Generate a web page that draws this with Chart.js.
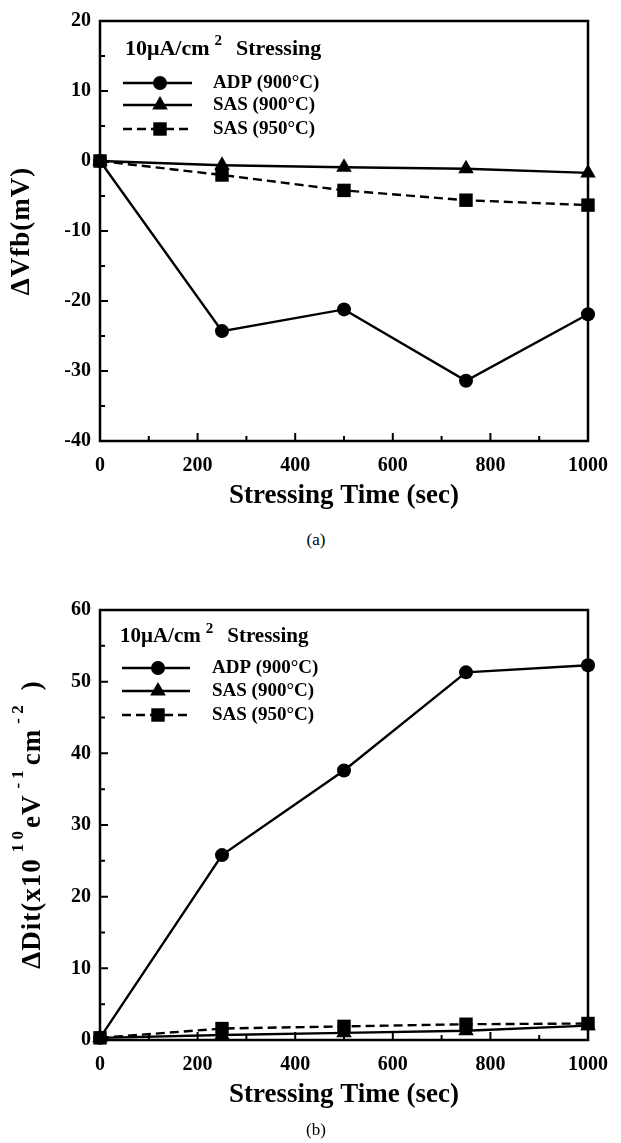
<!DOCTYPE html>
<html>
<head>
<meta charset="utf-8">
<script src="https://cdn.jsdelivr.net/npm/chart.js@4.4.0/dist/chart.umd.min.js"></script>
<style>
    body { margin: 0; background: #fff; width: 621px; height: 1143px; position: relative; overflow: hidden; }
    .panel { position: absolute; left: 0; width: 621px; }
    .caption { position: absolute; left: 276px; width: 80px; text-align: center; font: 17px "Liberation Serif", serif; color: #000; }
</style>
</head>
<body>
<div class="panel" style="top:0"><canvas id="chart-a" width="621" height="525"></canvas></div>
<div class="caption" style="top:530px">(a)</div>
<div class="panel" style="top:580px"><canvas id="chart-b" width="621" height="544"></canvas></div>
<div class="caption" style="top:1120px">(b)</div>

<script>
// ===== DATOS =====
const stressTimes = [0, 250, 500, 750, 1000];
const timeTicks = [0, 200, 400, 600, 800, 1000];
const seriesNames = ['ADP (900°C)', 'SAS (900°C)', 'SAS (950°C)'];
const legendTitle = ['10μA/cm', '2', 'Stressing'];

// (a) flat-band voltage shift, mV
const vfbADP900 = [0, -24.3, -21.2, -31.4, -21.9];
const vfbSAS900 = [0, -0.6, -0.9, -1.1, -1.7];
const vfbSAS950 = [0, -2.0, -4.2, -5.6, -6.3];
const vfbTicks = [-40, -30, -20, -10, 0, 10, 20];

// (b) interface trap density shift, x10^10 eV^-1 cm^-2
const ditADP900 = [0.3, 25.8, 37.6, 51.3, 52.3];
const ditSAS900 = [0.3, 0.7, 1.0, 1.3, 2.0];
const ditSAS950 = [0.3, 1.6, 1.9, 2.2, 2.3];
const ditTicks = [0, 10, 20, 30, 40, 50, 60];

const serif = '"Liberation Serif", "Times New Roman", serif';
Chart.defaults.font.family = serif;
Chart.defaults.color = '#000';

const seriesStyles = [
    { pointStyle: 'circle', pointRadius: 7, borderDash: [] },
    { pointStyle: 'triangle', pointRadius: 9, borderDash: [] },
    { pointStyle: 'rect', pointRadius: 9.5, borderDash: [9, 5] }
];

// ===== PLUGINS =====
// marco + ticks hacia adentro
const frameTicks = {
    id: 'frameTicks',
    beforeDatasetsDraw(chart) {
        const { ctx, chartArea: a, scales: { x, y } } = chart;
        ctx.save();
        ctx.strokeStyle = '#000';
        ctx.lineWidth = 2.5;
        ctx.strokeRect(a.left, a.top, a.right - a.left, a.bottom - a.top);
        ctx.lineWidth = 2;
        ctx.beginPath();
        const xv = x.ticks.map(t => t.value);
        xv.forEach((v, i) => {
            const px = x.getPixelForValue(v);
            ctx.moveTo(px, a.bottom); ctx.lineTo(px, a.bottom - 8);
            if (i < xv.length - 1) {
                const m = x.getPixelForValue((v + xv[i + 1]) / 2);
                ctx.moveTo(m, a.bottom); ctx.lineTo(m, a.bottom - 5);
            }
        });
        const yv = y.ticks.map(t => t.value);
        yv.forEach((v, i) => {
            const py = y.getPixelForValue(v);
            ctx.moveTo(a.left, py); ctx.lineTo(a.left + 8, py);
            if (i < yv.length - 1) {
                const m = y.getPixelForValue((v + yv[i + 1]) / 2);
                ctx.moveTo(a.left, m); ctx.lineTo(a.left + 5, m);
            }
        });
        ctx.stroke();
        ctx.restore();
    }
};

function drawMarker(ctx, ds, x, y) {
    if (Chart.helpers && Chart.helpers.drawPoint) {
        Chart.helpers.drawPoint(ctx, { pointStyle: ds.pointStyle, radius: ds.pointRadius, rotation: 0, borderWidth: 0 }, x, y);
        return;
    }
    ctx.beginPath();
    ctx.arc(x, y, ds.pointRadius, 0, Math.PI * 2);
    ctx.fill();
}

// leyenda dentro del gráfico
const paperLegend = {
    id: 'paperLegend',
    afterDatasetsDraw(chart, args, opts) {
        const { ctx, chartArea: a } = chart;
        ctx.save();
        ctx.fillStyle = '#000';
        ctx.strokeStyle = '#000';
        ctx.textBaseline = 'middle';
        ctx.textAlign = 'left';
        let x = a.left + opts.titleX;
        const ty = a.top + opts.titleY;
        ctx.font = `bold ${opts.titleSize}px ${serif}`;
        ctx.fillText(legendTitle[0], x, ty);
        x += ctx.measureText(legendTitle[0]).width + 5;
        ctx.font = `bold ${Math.round(opts.titleSize * 0.7)}px ${serif}`;
        ctx.fillText(legendTitle[1], x, ty - 8);
        x += ctx.measureText(legendTitle[1]).width + 14;
        ctx.font = `bold ${opts.titleSize}px ${serif}`;
        ctx.fillText(legendTitle[2], x, ty);

        chart.data.datasets.forEach((ds, i) => {
            const ry = a.top + opts.rows[i];
            ctx.lineWidth = ds.borderWidth;
            ctx.setLineDash(ds.borderDash || []);
            ctx.beginPath();
            ctx.moveTo(a.left + opts.lineX0, ry);
            ctx.lineTo(a.left + opts.lineX1, ry);
            ctx.stroke();
            ctx.setLineDash([]);
            drawMarker(ctx, ds, a.left + opts.markerX, ry);
            ctx.font = `bold ${opts.textSize}px ${serif}`;
            ctx.fillText(ds.label, a.left + opts.textX, ry);
        });
        ctx.restore();
    }
};

// título del eje Y con superíndices
const yTitle = {
    id: 'yTitle',
    afterDraw(chart, args, opts) {
        const { ctx, chartArea: a } = chart;
        const cy = (a.top + a.bottom) / 2;
        ctx.save();
        ctx.translate(opts.x, cy);
        ctx.rotate(-Math.PI / 2);
        ctx.fillStyle = '#000';
        ctx.textBaseline = 'middle';
        ctx.textAlign = 'left';
        const fontFor = p => `bold ${p.sup ? opts.supSize : opts.size}px ${serif}`;
        const parts = opts.parts.map(p => {
            ctx.font = fontFor(p);
            ctx.letterSpacing = (p.spacing || 0) + 'px';
            return { ...p, w: ctx.measureText(p.text).width + (p.gap || 0) };
        });
        const total = parts.reduce((s, p) => s + p.w, 0);
        let x = -total / 2;
        parts.forEach(p => {
            ctx.font = fontFor(p);
            ctx.letterSpacing = (p.spacing || 0) + 'px';
            ctx.fillText(p.text, x, p.sup ? -opts.supShift : 0);
            x += p.w;
        });
        ctx.restore();
    }
};

// ===== GRÁFICOS =====
function makeChart(canvasId, values, yTicks, padTop, legendOpts, yTitleOpts) {
    const datasets = values.map((vals, i) => ({
        label: seriesNames[i],
        data: stressTimes.map((t, j) => ({ x: t, y: vals[j] })),
        borderColor: '#000',
        backgroundColor: '#000',
        pointBackgroundColor: '#000',
        borderWidth: 2.4,
        pointBorderWidth: 0,
        pointStyle: seriesStyles[i].pointStyle,
        pointRadius: seriesStyles[i].pointRadius,
        borderDash: seriesStyles[i].borderDash,
        tension: 0,
        clip: false
    }));

    return new Chart(document.getElementById(canvasId).getContext('2d'), {
        type: 'line',
        data: { datasets },
        plugins: [frameTicks, paperLegend, yTitle],
        options: {
            responsive: false,
            animation: false,
            layout: { padding: { left: 0, right: 17, top: padTop, bottom: 0 } },
            plugins: {
                legend: { display: false },
                tooltip: { enabled: false },
                paperLegend: legendOpts,
                yTitle: yTitleOpts
            },
            scales: {
                x: {
                    type: 'linear',
                    min: timeTicks[0],
                    max: timeTicks[timeTicks.length - 1],
                    ticks: {
                        stepSize: timeTicks[1] - timeTicks[0], padding: 13, autoSkip: false, maxRotation: 0,
                        font: { size: 20, weight: 'bold' }, color: '#000',
                        callback: v => String(v)
                    },
                    grid: { display: false, drawTicks: false },
                    border: { display: false },
                    title: { display: true, text: 'Stressing Time (sec)', color: '#000', font: { size: 27, weight: 'bold' }, padding: { top: 0, bottom: 13 } },
                    afterFit(s) { s.height = 84; }
                },
                y: {
                    type: 'linear',
                    min: yTicks[0],
                    max: yTicks[yTicks.length - 1],
                    ticks: {
                        stepSize: yTicks[1] - yTicks[0], padding: 9, autoSkip: false,
                        font: { size: 20, weight: 'bold' }, color: '#000',
                        callback: v => String(v)
                    },
                    grid: { display: false, drawTicks: false },
                    border: { display: false },
                    afterFit(s) { s.width = 100; }
                }
            }
        }
    });
}

makeChart('chart-a', [vfbADP900, vfbSAS900, vfbSAS950], vfbTicks, 15,
    { titleX: 25, titleY: 28, titleSize: 22, textSize: 19, rows: [62, 84, 108], lineX0: 23, lineX1: 92, markerX: 60, textX: 113 },
    { x: 22, size: 27, supSize: 17, supShift: 14, parts: [{ text: 'ΔVfb(mV)', spacing: 1 }] });

makeChart('chart-b', [ditADP900, ditSAS900, ditSAS950], ditTicks, 30,
    { titleX: 20, titleY: 27, titleSize: 21, textSize: 19, rows: [58, 81, 105], lineX0: 22, lineX1: 90, markerX: 58, textX: 112 },
    { x: 33, size: 27, supSize: 17, supShift: 14, parts: [
        { text: 'ΔDit(x10', spacing: 1, gap: 6 },
        { text: '1 0', sup: true, gap: 3 },
        { text: 'eV', spacing: 1, gap: 6 },
        { text: '- 1', sup: true, gap: 5 },
        { text: 'cm', spacing: 1, gap: 5 },
        { text: '- 2', sup: true, gap: 15 },
        { text: ')' }
    ] });
</script>
</body>
</html>
